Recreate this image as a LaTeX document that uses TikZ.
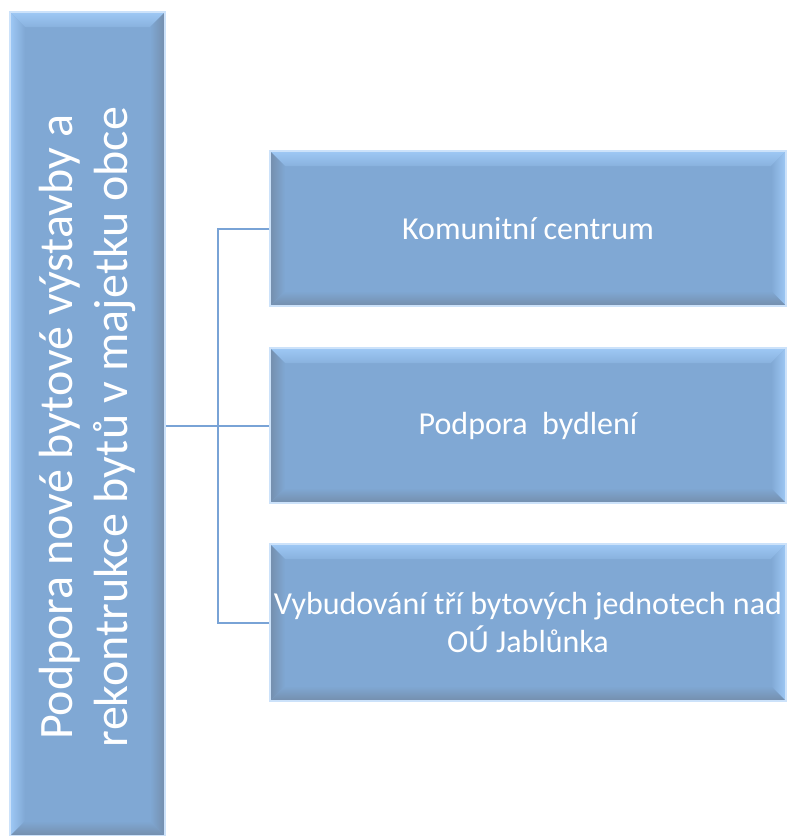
\documentclass[tikz,border=0pt]{standalone}
\usepackage{fontspec}
\setmainfont{Carlito}
\definecolor{face}{RGB}{128,168,212}
\definecolor{bevlight}{RGB}{158,200,245}
\definecolor{bevdark}{RGB}{116,142,172}
\definecolor{rim}{RGB}{204,226,250}
\definecolor{conn}{RGB}{121,163,214}
\tikzset{
  x=1pt, y=-1pt,
  bevelbox/.style 2 args={
    fill=face, draw=rim, line width=1.5pt, inner sep=0pt, text=white,
    path picture={
      \def\bw{15pt}
      \coordinate (nw) at (path picture bounding box.north west);
      \coordinate (ne) at (path picture bounding box.north east);
      \coordinate (sw) at (path picture bounding box.south west);
      \coordinate (se) at (path picture bounding box.south east);
      \shade[top color=bevlight, bottom color=face!70!bevlight]
        (nw) -- (ne) -- ([xshift=-\bw,yshift=-\bw]ne) -- ([xshift=\bw,yshift=-\bw]nw) -- cycle;
      \shade[left color=#1, right color=face]
        (nw) -- ([xshift=\bw,yshift=-\bw]nw) -- ([xshift=\bw,yshift=\bw]sw) -- (sw) -- cycle;
      \shade[left color=face, right color=#2]
        (ne) -- ([xshift=-\bw,yshift=-\bw]ne) -- ([xshift=-\bw,yshift=\bw]se) -- (se) -- cycle;
      \shade[top color=face, bottom color=bevdark]
        (sw) -- ([xshift=\bw,yshift=\bw]sw) -- ([xshift=-\bw,yshift=\bw]se) -- (se) -- cycle;
    }
  },
  childbox/.style={bevelbox={bevdark}{bevlight},
    minimum width=516pt, align=center, font=\fontsize{32}{38}\selectfont},
  conline/.style={draw=conn, line width=2pt}
}
\begin{document}
\begin{tikzpicture}
\useasboundingbox (0,0) rectangle (787,836);
\node[bevelbox={bevlight}{bevdark}, minimum width=155pt, minimum height=824pt] (root) at (87.5,424) {};
\node[rotate=90, text=white, align=center, font=\fontsize{48}{55}\selectfont] (roottext) at ([yshift=-3pt]root.center) {Podpora nové bytové výstavby a\\rekontrukce bytů v majetku obce};
\node[childbox, minimum height=155pt] (c1) at (528,228.5) {Komunitní centrum};
\node[childbox, minimum height=155pt] (c2) at (528,425.5) {Podpora\ \ bydlení};
\node[childbox, minimum height=157pt] (c3) at (528,622.5) {Vybudování tří bytových jednotech nad\\OÚ Jablůnka};
\coordinate (hub) at (218,426);
\draw[conline] (root.east |- hub) -- (c2.west |- hub);
\draw[conline] (c1.west) -| (hub) |- (c3.west);
\end{tikzpicture}
\end{document}
